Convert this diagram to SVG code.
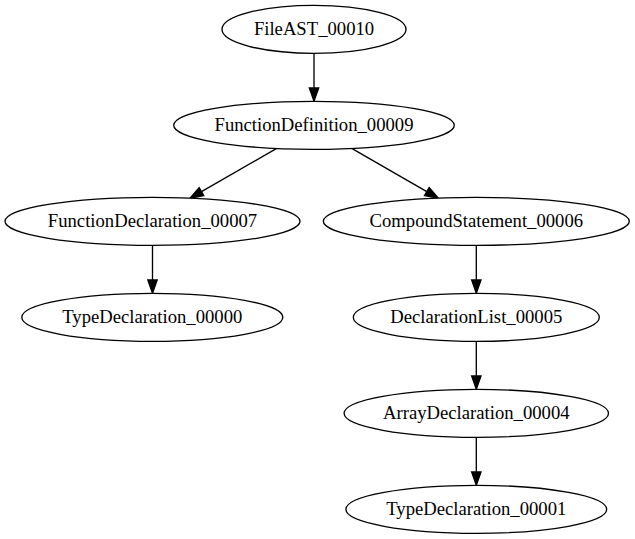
<svg xmlns="http://www.w3.org/2000/svg" width="635" height="539" viewBox="0 0 635 539">
<defs>
<style>
.node ellipse{fill:#fff;stroke:#000;stroke-width:1.33}
.node text{font-family:"Liberation Serif","Times New Roman",serif;font-size:18.67px;text-anchor:middle;fill:#000}
.edge{stroke:#000;stroke-width:1.33;fill:none;marker-end:url(#ah)}
</style>
<marker id="ah" markerUnits="userSpaceOnUse" markerWidth="14" markerHeight="10" refX="0" refY="4.67" orient="auto" overflow="visible">
<path d="M0,0 L13.33,4.67 L0,9.33 Z" fill="#000" stroke="#000" stroke-width="1.33"/>
</marker>
</defs>
<rect width="635" height="539" fill="#fff"/>
<g id="connectors">
<line class="edge" x1="314" y1="53.3" x2="314" y2="88"/>
<line class="edge" x1="276.7" y1="148.4" x2="201.5" y2="191.6"/>
<line class="edge" x1="351.7" y1="148.4" x2="426.8" y2="191.6"/>
<line class="edge" x1="152.5" y1="245.3" x2="152.5" y2="280"/>
<line class="edge" x1="476.3" y1="245.3" x2="476.3" y2="280"/>
<line class="edge" x1="476.3" y1="341.3" x2="476.3" y2="376"/>
<line class="edge" x1="476.3" y1="437.3" x2="476.3" y2="472"/>
</g>
<g id="FileAST_00010" class="node"><ellipse cx="314" cy="29.33" rx="92" ry="24"/><text x="314" y="34.6">FileAST_00010</text></g>
<g id="FunctionDefinition_00009" class="node"><ellipse cx="314" cy="125.33" rx="140.3" ry="24"/><text x="314" y="130.6">FunctionDefinition_00009</text></g>
<g id="FunctionDeclaration_00007" class="node"><ellipse cx="152.5" cy="221.33" rx="147.5" ry="24"/><text x="152.5" y="226.6">FunctionDeclaration_00007</text></g>
<g id="CompoundStatement_00006" class="node"><ellipse cx="476.3" cy="221.33" rx="153" ry="24"/><text x="476.3" y="226.6">CompoundStatement_00006</text></g>
<g id="TypeDeclaration_00000" class="node"><ellipse cx="152.3" cy="317.33" rx="130.5" ry="24"/><text x="152.3" y="322.6">TypeDeclaration_00000</text></g>
<g id="DeclarationList_00005" class="node"><ellipse cx="476.3" cy="317.33" rx="123" ry="24"/><text x="476.3" y="322.6">DeclarationList_00005</text></g>
<g id="ArrayDeclaration_00004" class="node"><ellipse cx="476.3" cy="413.33" rx="132.2" ry="24"/><text x="476.3" y="418.6">ArrayDeclaration_00004</text></g>
<g id="TypeDeclaration_00001" class="node"><ellipse cx="476.3" cy="509.33" rx="130.4" ry="24"/><text x="476.3" y="514.6">TypeDeclaration_00001</text></g>
</svg>
